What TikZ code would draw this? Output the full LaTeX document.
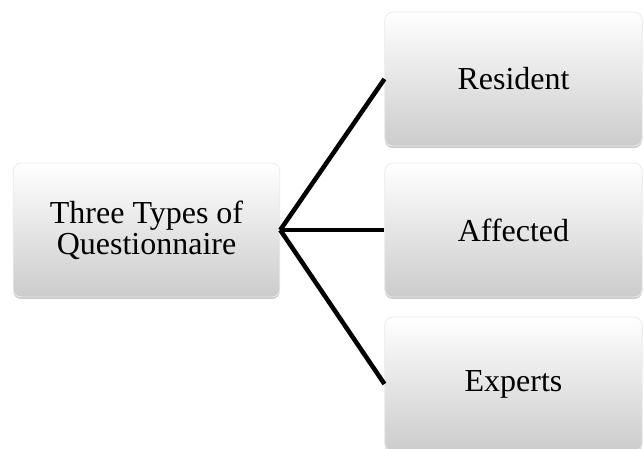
\documentclass[tikz,border=0pt]{standalone}
\usepackage{fontspec}
\setmainfont{Liberation Serif}
\usetikzlibrary{shadows}
\tikzset{
    gbox/.style={rounded corners=6pt, draw=black!8, line width=0.6pt,
        top color=white, bottom color=black!20,
        drop shadow={shadow xshift=0pt, shadow yshift=-1.5pt, opacity=0.35, fill=black!60},
        minimum height=100.5pt, align=center, inner sep=0pt,
        font=\fontsize{24}{23}\selectfont},
    link/.style={line width=3.4pt}
}
\begin{document}
\begin{tikzpicture}[x=0.75pt, y=-0.75pt]
    \useasboundingbox (0,0) rectangle (644,449);
    \node[gbox, minimum width=200pt] (types) at (146.5,230) {Three Types of\\Questionnaire};
    \node[gbox, minimum width=193pt] (res) at (513.5,79) {Resident};
    \node[gbox, minimum width=193pt] (aff) at (513.5,230) {Affected};
    \node[gbox, minimum width=193pt] (exp) at (513.5,384) {Experts};
    \draw[link] (types.east) -- (res.west);
    \draw[link] (types.east) -- (aff.west);
    \draw[link] (types.east) -- (exp.west);
\end{tikzpicture}
\end{document}
